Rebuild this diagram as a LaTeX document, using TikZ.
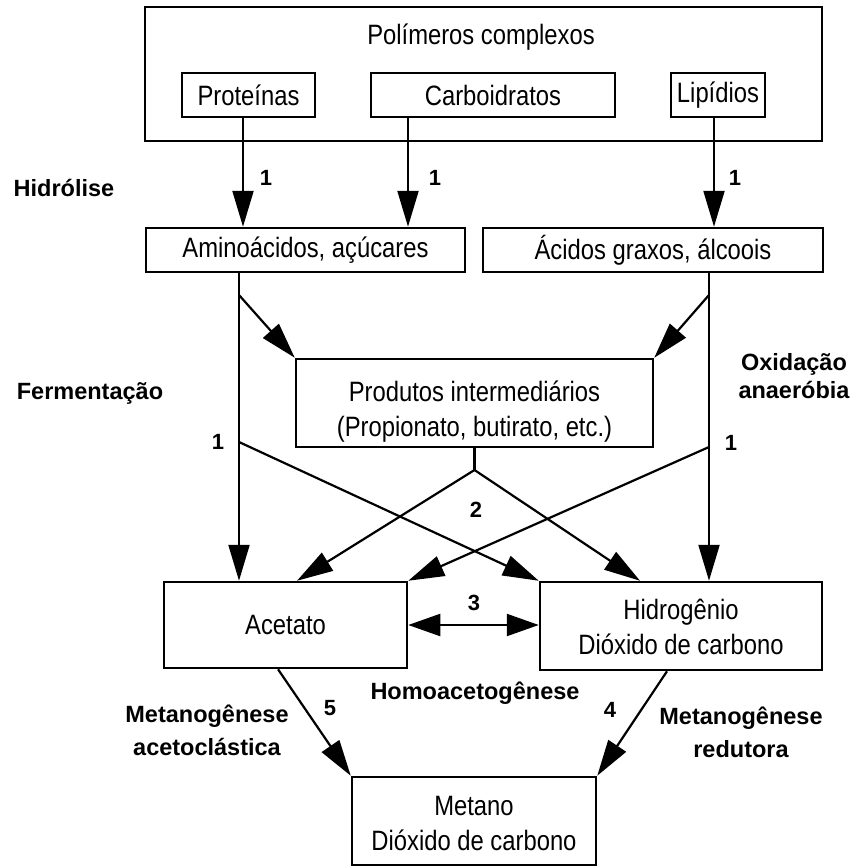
\documentclass[tikz,border=0pt]{standalone}
\usepackage{fontspec}
\setmainfont{Liberation Sans}[FakeStretch=0.85]
\newfontfamily\labelfont{Liberation Sans}
\usetikzlibrary{arrows.meta,calc}

% multi-line box text, lowered a little inside its frame
\newcommand\lowtext[2]{\raisebox{-#1}[\height][\depth]{\begin{tabular}{@{}c@{}}#2\end{tabular}}}

\begin{document}
\begin{tikzpicture}[x=1pt,y=-1pt,
  box/.style={draw, line width=2.5pt, inner sep=0pt, align=center,
    font=\fontsize{28}{35}\selectfont},
  plain/.style={font=\fontsize{28}{35}\selectfont, inner sep=0pt},
  ln/.style={line width=2.2pt},
  arr/.style={line width=2.2pt, -{Triangle[length=36pt,width=21pt]}},
  stage/.style={font=\labelfont\bfseries\fontsize{23.5}{28}\selectfont,
    align=center, inner sep=0pt},
  num/.style={font=\labelfont\bfseries\fontsize{22}{26}\selectfont, inner sep=0pt}]

\useasboundingbox (0,0) rectangle (856,867);

% --- boxes ---
\node[box, minimum width=677pt, minimum height=134pt] (poly) at (483.5,74) {};
\node[plain] (polyt) at (481,37) {Polímeros complexos};
\node[box, minimum width=133pt, minimum height=44pt] (prot) at (248.5,95) {Proteínas};
\node[box, minimum width=244pt, minimum height=44pt] (carb) at (493,95) {Carboidratos};
\node[box, minimum width=94pt, minimum height=44pt] (lip) at (718,95) {Lipídios};

\node[box, minimum width=319pt, minimum height=44pt] (amino) at (305.5,250) {Aminoácidos, açúcares};
\node[box, minimum width=340pt, minimum height=44pt] (acid) at (653,250) {Ácidos graxos, álcoois};

\node[box, minimum width=357pt, minimum height=88pt] (prod) at (474.5,403)
  {\lowtext{9pt}{Produtos intermediários\\(Propionato, butirato, etc.)}};

\node[box, minimum width=243pt, minimum height=86pt] (acet) at (285.5,625) {Acetato};
\node[box, minimum width=282pt, minimum height=88pt] (hidr) at (681,626)
  {\lowtext{4pt}{Hidrogênio\\Dióxido de carbono}};

\node[box, minimum width=244pt, minimum height=88pt] (meta) at (474,821)
  {\lowtext{5pt}{Metano\\Dióxido de carbono}};

% --- process names ---
\node[stage] (hidrol) at (64,188) {Hidrólise};
\node[stage] (ferm) at (90,393) {Fermentação};
\node[stage] (oxid) at (794,376) {Oxidação\\anaeróbia};
\node[stage] (homo) at (475,693) {Homoacetogênese};
\node[stage, font=\labelfont\bfseries\fontsize{23.5}{33}\selectfont] (metac) at (207,730) {Metanogênese\\acetoclástica};
\node[stage, font=\labelfont\bfseries\fontsize{23.5}{33}\selectfont] (metre) at (741,732) {Metanogênese\\redutora};

% --- step numbers ---
\node[num] (n1a) at (266,178) {1};
\node[num] (n1b) at (435,178) {1};
\node[num] (n1c) at (735,178) {1};
\node[num] (n1d) at (218,442) {1};
\node[num] (n1e) at (731,443) {1};
\node[num] (n2) at (476,510) {2};
\node[num] (n3) at (474,603) {3};
\node[num] (n5) at (330,708) {5};
\node[num] (n4) at (610,710) {4};

% --- reference points for the connectors ---
\coordinate (xp) at (243,0);
\coordinate (xc) at (408,0);
\coordinate (xl) at (714,0);
\coordinate (xf) at (239,0);
\coordinate (xo) at (709,0);
\coordinate (fj) at (239,295);
\coordinate (oj) at (709,295);
\coordinate (f1) at (239,442);
\coordinate (o1) at (709,447);
\coordinate (split) at (474.5,470);
\coordinate (xsa) at (297,0);
\coordinate (xsh) at (640,0);
\coordinate (xam) at (278,0);
\coordinate (xhm) at (667,0);

% --- hydrolysis ---
\draw[arr] (prot.south -| xp) -- (amino.north -| xp);
\draw[arr] (carb.south -| xc) -- (amino.north -| xc);
\draw[arr] (lip.south -| xl) -- (acid.north -| xl);

% --- fermentation / anaerobic oxidation ---
\draw[arr] (amino.south -| xf) -- (acet.north -| xf);
\draw[arr] (fj) -- (prod.north west);
\draw[arr] (acid.south -| xo) -- (hidr.north -| xo);
\draw[arr] (oj) -- (prod.north east);
\draw[arr] (f1) -- (hidr.north west);
\draw[arr] (o1) -- (acet.north east);

% --- intermediates ---
\draw[ln] (prod.south) -- (split);
\draw[arr] (split) -- (acet.north -| xsa);
\draw[arr] (split) -- (hidr.north -| xsh);

% --- homoacetogenesis ---
\draw[line width=2.2pt, {Triangle[length=32pt,width=22pt]}-{Triangle[length=32pt,width=22pt]}]
  (acet.east) -- (acet.east -| hidr.west);

% --- methanogenesis ---
\draw[arr] (acet.south -| xam) -- (meta.north west);
\draw[arr] (hidr.south -| xhm) -- (meta.north east);
\end{tikzpicture}
\end{document}
